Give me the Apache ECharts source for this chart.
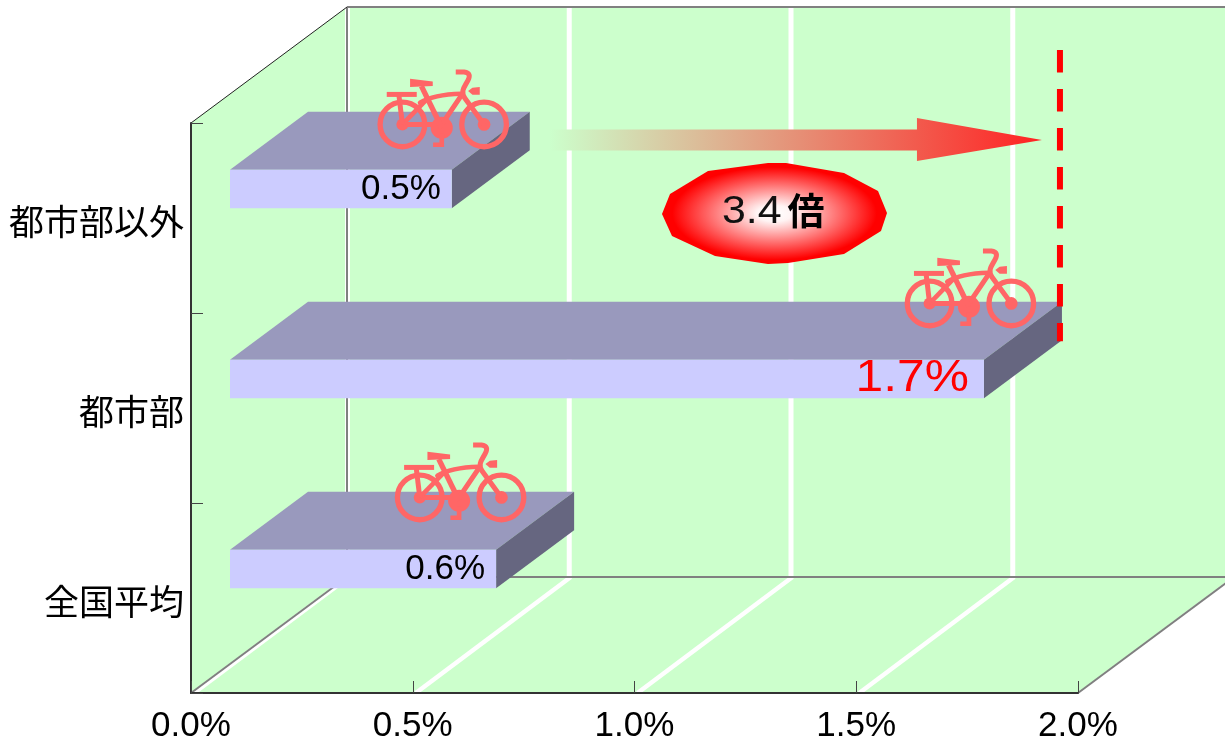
<!DOCTYPE html>
<html lang="ja">
<head>
<meta charset="utf-8">
<title>都市部と都市部以外の比較</title>
<style>
  html, body { margin: 0; padding: 0; background: #fff; }
  #chart { width: 1225px; height: 739px; }
</style>
<script src="https://cdn.jsdelivr.net/npm/echarts@6/dist/echarts.min.js"></script>
</head>
<body>
<div id="chart"></div>
<script>
// Bottom-to-top order on the category axis
const categories = ['全国平均', '都市部', '都市部以外'];
const shares = [0.6, 1.7, 0.5];
const axisTicks = [0, 0.5, 1, 1.5, 2];

// Oblique projection of the box: how far the back wall sits from the front plane
const DEPTH_X = 156;
const DEPTH_Y = 116;
const BAR_FRONT = 0.25;
const BAR_BACK = 0.75;
const BAR_HALF_HEIGHT = 19.25;

const WALL = '#CCFFCC';
const EDGE = '#808080';
const JP = '"Noto Sans CJK JP"';
const LATIN = '"Liberation Sans"';
const BIKE = '#FF6666';

// Where each bicycle sits relative to the far top-right corner of its bar
const bikeOffsets = { '全国平均': [-186, -60], '都市部': [-164, -64], '都市部以外': [-159, -53] };

function projector(api) {
  const origin = api.coord([0, 0]);
  const band = api.size([0, 1])[1];
  return (v, i, lift, depth) => [
    api.coord([v, 0])[0] + depth * DEPTH_X,
    origin[1] - i * band - lift - depth * DEPTH_Y
  ];
}

function line(a, b, stroke, lineWidth, extra) {
  return {
    type: 'line',
    shape: { x1: a[0], y1: a[1], x2: b[0], y2: b[1] },
    style: Object.assign({ stroke, lineWidth, fill: null }, extra || {})
  };
}

function poly(points, fill) {
  return { type: 'polygon', shape: { points }, style: { fill } };
}

// Back wall, side wall, floor and their grid lines
function renderBox(params, api) {
  const maxV = axisTicks[axisTicks.length - 1];
  const band = api.size([0, 1])[1];
  const P = (v, y, d) => {
    const base = api.coord([v, 0]);
    const bottom = api.coord([0, 0])[1] + band / 2;
    return [base[0] + d * DEPTH_X, bottom - y - d * DEPTH_Y];
  };
  const H = band * categories.length;
  const kids = [
    poly([P(0, H, 1), P(maxV, H, 1), P(maxV, 0, 1), P(0, 0, 1)], WALL),
    poly([P(0, 0, 0), P(0, H, 0), P(0, H, 1), P(0, 0, 1)], WALL),
    poly([P(0, 0, 0), P(maxV, 0, 0), P(maxV, 0, 1), P(0, 0, 1)], WALL)
  ];
  axisTicks.forEach(t => {
    const top = P(t, H, 1), foot = P(t, 0, 1), front = P(t, 0, 0);
    kids.push(line([top[0] + 0.5, top[1]], [foot[0] + 0.5, foot[1]], '#FFFFFF', 5));
    kids.push(line([front[0] + 3, front[1]], [foot[0] + 2, foot[1]], '#FFFFFF', 4.5));
  });
  kids.push(line(P(0, H, 1), P(maxV, H, 1), EDGE, 2));
  kids.push(line(P(0, H, 1), P(0, 0, 1), EDGE, 2));
  kids.push(line(P(0, 0, 1), P(maxV, 0, 1), EDGE, 2));
  kids.push(line(P(0, 0, 0), P(0, 0, 1), EDGE, 2));
  kids.push(line(P(maxV, 0, 0), P(maxV, 0, 1), EDGE, 2));
  kids.push(line(P(0, H, 0), P(0, H, 1), '#222222', 1));
  return { type: 'group', children: kids };
}

// Bicycle outline in its own small coordinate space, scaled down by the group
function bicycle(x, y) {
  const s = { stroke: BIKE, fill: null, lineCap: 'round' };
  const dot = (cx, cy, r) => ({ type: 'circle', shape: { cx, cy, r }, style: { fill: BIKE } });
  const wheel = (cx, cy) => ({ type: 'circle', shape: { cx, cy, r: 67 }, style: Object.assign({}, s, { lineWidth: 16 }) });
  const stroke = (pts, w) => ({ type: 'polyline', shape: { points: pts }, style: Object.assign({}, s, { lineWidth: w, lineCap: 'butt' }) });
  return {
    type: 'group', x, y, scaleX: 1 / 3, scaleY: 1 / 3,
    children: [
      wheel(95, 197), wheel(340, 197),
      dot(95, 197, 18), dot(340, 197, 19), dot(213, 207, 33),
      stroke([[95, 197], [213, 197], [272, 110]], 15),
      stroke([[95, 197], [168, 122]], 14),
      stroke([[152, 82], [213, 207]], 16),
      stroke([[84, 105], [95, 197]], 15),
      stroke([[48, 107], [138, 107]], 15),
      {
        type: 'path',
        shape: { pathData: 'M148 132 C180 112 230 106 272 105' },
        style: Object.assign({}, s, { lineWidth: 14 })
      },
      {
        type: 'path',
        shape: { pathData: 'M255 40 L280 40 C298 42 298 52 292 64 C282 84 268 96 282 118 L340 197' },
        style: Object.assign({}, s, { lineWidth: 15, lineCap: 'butt' })
      },
      poly([[118, 60], [186, 68], [186, 82], [118, 85]], BIKE),
      poly([[327, 85], [327, 108], [305, 108], [292, 97], [305, 87]], BIKE),
      stroke([[213, 225], [213, 258], [187, 258]], 14)
    ]
  };
}

// One extruded bar with its value label and bicycle
function renderBar(params, api) {
  const v = api.value(0), i = api.value(1);
  const P = projector(api);
  const h = BAR_HALF_HEIGHT;
  const fl = P(0, i, -h, BAR_FRONT), fr = P(v, i, -h, BAR_FRONT);
  const tl = P(0, i, h, BAR_FRONT), tr = P(v, i, h, BAR_FRONT);
  const bl = P(0, i, h, BAR_BACK), br = P(v, i, h, BAR_BACK);
  const dr = P(v, i, -h, BAR_BACK);
  const name = categories[i];
  const highlighted = v === Math.max.apply(null, shares);
  const off = bikeOffsets[name];
  return {
    type: 'group',
    children: [
      poly([tl, tr, br, bl], '#9999BD'),
      poly([tr, br, dr, fr], '#666680'),
      poly([tl, tr, fr, fl], '#CCCCFF'),
      bicycle(br[0] + off[0], br[1] + off[1]),
      {
        type: 'text',
        x: tr[0] - (highlighted ? 15 : 11),
        y: (tr[1] + fr[1]) / 2,
        scaleX: highlighted ? 1.13 : 1,
        style: {
          text: v.toFixed(1) + '%',
          font: (highlighted ? 44 : 35) + 'px ' + LATIN,
          fill: highlighted ? '#FF0000' : '#000000',
          textAlign: 'right',
          textVerticalAlign: 'middle'
        }
      }
    ]
  };
}

// Comparison arrow, dashed reference line and the ratio badge
function renderCallout(params, api) {
  const high = api.value(0), low = api.value(1);
  const iHigh = api.value(2), iLow = api.value(3);
  const P = projector(api);
  const h = BAR_HALF_HEIGHT;
  const foot = P(high, iHigh, -h, BAR_BACK);
  const start = P(low, iLow, h, BAR_BACK);
  const dashX = foot[0] - 2;
  const arrowY = 140, tip = dashX - 18, headBase = tip - 125, tail = start[0] + 20;
  const grad = new echarts.graphic.LinearGradient(0, 0, 1, 0, [
    { offset: 0, color: WALL },
    { offset: 1, color: '#FF2222' }
  ]);
  const ratio = (high / low).toFixed(1);
  const cx = 773, cy = 213, squash = 2.2;
  const outline = [[-111, 1], [-103, -19], [-65, -42], [-5, -50], [13, -50], [71, -40], [105, -22], [114, 0], [108, 18], [71, 41], [15, 50], [-5, 51], [-58, 43], [-101, 23]]
    .map(p => [p[0] / squash, p[1]]);
  const glow = new echarts.graphic.RadialGradient(0.5, 0.5, 0.5, [
    { offset: 0, color: '#FFFFFF' },
    { offset: 0.16, color: '#FFF4F4' },
    { offset: 0.92, color: '#FF0000' },
    { offset: 1, color: '#FF0000' }
  ]);
  return {
    type: 'group',
    children: [
      line([dashX, 50], [dashX, foot[1] + 1], '#FF0000', 6, { lineDash: [22.5, 16.5] }),
      poly([[tail, arrowY - 10.5], [headBase, arrowY - 10.5], [headBase, arrowY - 22], [tip, arrowY],
            [headBase, arrowY + 21], [headBase, arrowY + 10.5], [tail, arrowY + 10.5]], grad),
      { type: 'group', x: cx, y: cy, scaleX: squash, children: [poly(outline, glow)] },
      {
        type: 'text', x: 722, y: 212, scaleX: 1.1,
        style: { text: ratio, font: '39px ' + LATIN, fill: '#111111', textAlign: 'left', textVerticalAlign: 'middle' }
      },
      {
        type: 'text', x: 806, y: 211,
        style: { text: '倍', font: 'bold 37px ' + JP, fill: '#000000', textAlign: 'center', textVerticalAlign: 'middle' }
      }
    ]
  };
}

const chart = echarts.init(document.getElementById('chart'), null, { renderer: 'canvas' });
chart.setOption({
  animation: false,
  backgroundColor: '#FFFFFF',
  grid: { left: 191, right: 147, top: 123, bottom: 46, containLabel: false, outerBoundsMode: 'none' },
  xAxis: {
    type: 'value', min: 0, max: 2, interval: 0.5, z: 10,
    axisLine: { show: true, lineStyle: { color: '#333333', width: 2 } },
    axisTick: { show: true, inside: true, length: 12, lineStyle: { color: '#444444', width: 1 } },
    splitLine: { show: false },
    axisLabel: {
      margin: 16, color: '#000000', fontSize: 35, fontFamily: LATIN, hideOverlap: false,
      showMinLabel: true, showMaxLabel: true,
      formatter: v => v.toFixed(1) + '%'
    }
  },
  yAxis: {
    type: 'category', data: categories, z: 10,
    axisLine: { show: true, lineStyle: { color: '#333333', width: 2 } },
    axisTick: { show: true, inside: true, length: 12, lineStyle: { color: '#444444', width: 1 } },
    splitLine: { show: false },
    axisLabel: {
      margin: 7, formatter: c => '{t|' + c + '}',
      rich: { t: { color: '#000000', fontSize: 35, fontFamily: JP, padding: [8, 0, 0, 0] } }
    }
  },
  series: [
    {
      type: 'custom', z: 1, silent: true, clip: false,
      renderItem: renderBox,
      encode: { x: 0, y: 1 },
      data: [[0, 0]]
    },
    {
      type: 'custom', z: 2, silent: true, clip: false,
      renderItem: renderBar,
      encode: { x: 0, y: 1 },
      data: shares.map((v, i) => [v, i])
    },
    {
      type: 'custom', z: 3, silent: true, clip: false,
      renderItem: renderCallout,
      encode: { x: 0 },
      data: [[shares[1], shares[2], 1, 2]]
    }
  ]
});
</script>
</body>
</html>
